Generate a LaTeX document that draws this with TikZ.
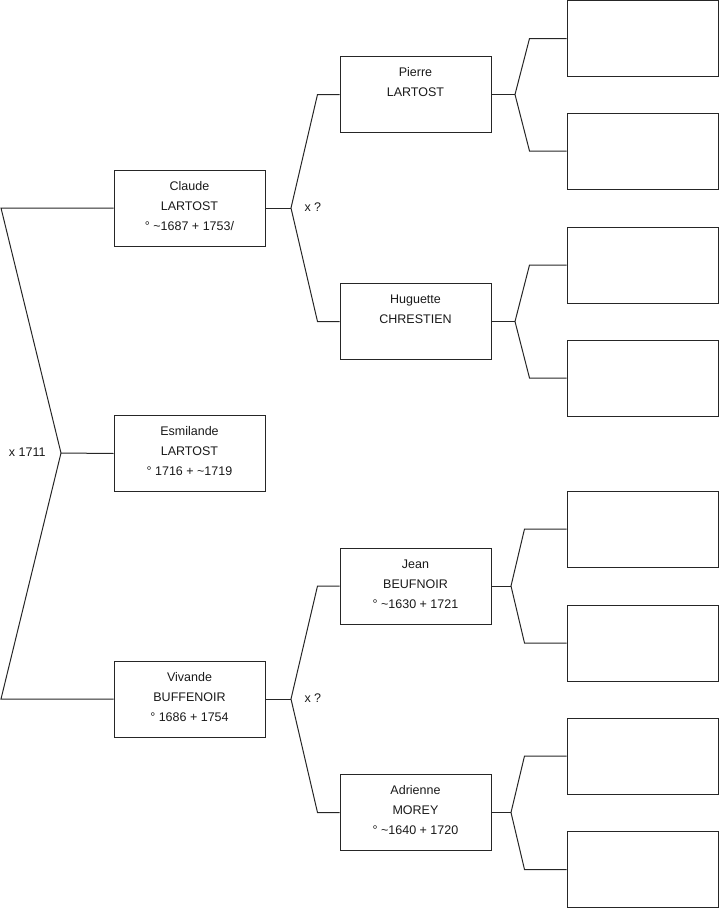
\documentclass[tikz,border=0pt]{standalone}
\usepackage{fontspec}
\setmainfont{Liberation Sans}
\begin{document}
\begin{tikzpicture}[x=1pt,y=-1pt,
  line width=1pt, draw=black!85,
  box/.style={draw=black!85, rectangle, minimum width=151pt, minimum height=76pt, inner sep=0pt},
  txt/.style={anchor=north, inner sep=0pt, align=center, font=\fontsize{12.5}{20}\selectfont, text=black!90},
  lbl/.style={inner sep=0pt, font=\fontsize{12.5}{14}\selectfont, text=black!90}]
\useasboundingbox (0,0) rectangle (719,908);
% people
\node[box] (claude) at (189.5,208) {};
\node[box] (esm) at (189.5,453.5) {};
\node[box] (viv) at (189.5,699) {};
\node[box] (pierre) at (415.5,94.5) {};
\node[box] (hug) at (415.5,321.5) {};
\node[box] (jean) at (415.5,586) {};
\node[box] (adr) at (415.5,812.5) {};
% empty boxes
\node[box] (r1) at (642.5,38.5) {};
\node[box] (r2) at (642.5,151) {};
\node[box] (r3) at (642.5,265) {};
\node[box] (r4) at (642.5,378) {};
\node[box] (r5) at (642.5,529) {};
\node[box] (r6) at (642.5,643) {};
\node[box] (r7) at (642.5,756) {};
\node[box] (r8) at (642.5,869.5) {};
% texts
\node[txt] (claudet) at ([yshift=-10pt]claude.north) {\rule{0pt}{10pt}Claude\\LARTOST\\° \textasciitilde1687 + 1753/};
\node[txt] (esmt) at ([yshift=-10pt]esm.north) {\rule{0pt}{10pt}Esmilande\\LARTOST\\° 1716 + \textasciitilde1719};
\node[txt] (vivt) at ([yshift=-10pt]viv.north) {\rule{0pt}{10pt}Vivande\\BUFFENOIR\\° 1686 + 1754};
\node[txt] (pierret) at ([yshift=-10pt]pierre.north) {\rule{0pt}{10pt}Pierre\\LARTOST};
\node[txt] (hugt) at ([yshift=-10pt]hug.north) {\rule{0pt}{10pt}Huguette\\CHRESTIEN};
\node[txt] (jeant) at ([yshift=-10pt]jean.north) {\rule{0pt}{10pt}Jean\\BEUFNOIR\\° \textasciitilde1630 + 1721};
\node[txt] (adrt) at ([yshift=-10pt]adr.north) {\rule{0pt}{10pt}Adrienne\\MOREY\\° \textasciitilde1640 + 1720};
% main fork
\coordinate (mA) at (61,453);
\coordinate (mT) at (1,208);
\coordinate (mB) at (1,699);
\draw (claude.west) -- (mT) -- (mA) -- (mB) -- (viv.west);
\draw (mA) -- (esm.west);
\node[lbl, anchor=west] (m711) at (8.5,452.5) {x 1711};
% Claude fork
\coordinate (cA) at (291,208);
\draw (claude.east) -- (cA);
\draw (pierre.west) -- ++(-22,0) -- (cA) -- ([xshift=-22pt]hug.west) -- (hug.west);
\node[lbl, anchor=west] (cx) at (304,207.5) {x ?};
% Vivande fork
\coordinate (vA) at (291,699);
\draw (viv.east) -- (vA);
\draw (jean.west) -- ++(-22,0) -- (vA) -- ([xshift=-22pt]adr.west) -- (adr.west);
\node[lbl, anchor=west] (vx) at (304,698.5) {x ?};
% Pierre fork
\coordinate (pA) at (515,94.5);
\draw (pierre.east) -- (pA);
\draw (r1.west) -- ++(-37,0) -- (pA) -- ([xshift=-37pt]r2.west) -- (r2.west);
% Huguette fork
\coordinate (hA) at (515,321.5);
\draw (hug.east) -- (hA);
\draw (r3.west) -- ++(-37,0) -- (hA) -- ([xshift=-37pt]r4.west) -- (r4.west);
% Jean fork
\coordinate (jA) at (511,586);
\draw (jean.east) -- (jA);
\draw (r5.west) -- ++(-42,0) -- (jA) -- ([xshift=-42pt]r6.west) -- (r6.west);
% Adrienne fork
\coordinate (aA) at (511,812.5);
\draw (adr.east) -- (aA);
\draw (r7.west) -- ++(-42,0) -- (aA) -- ([xshift=-42pt]r8.west) -- (r8.west);
\end{tikzpicture}
\end{document}
